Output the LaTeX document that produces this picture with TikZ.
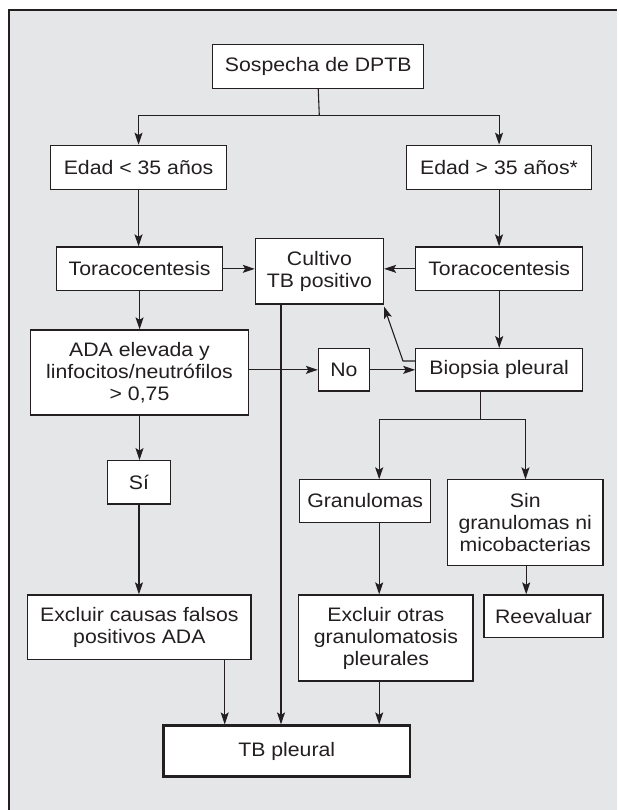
\documentclass[tikz,border=0pt]{standalone}
\usepackage{fontspec}
\setmainfont{Liberation Sans}[FakeStretch=1.09]
\usetikzlibrary{arrows.meta}
\definecolor{bggrey}{HTML}{E5E6E8}
\definecolor{ink}{HTML}{231F20}
\tikzset{
  box/.style={draw=ink, line width=1.3pt, fill=white, inner sep=0pt, align=center,
    font=\fontsize{19.5}{22}\selectfont, text=ink},
  conn/.style={draw=ink, line width=1.1pt},
  arr/.style={conn, -{Stealth[length=12pt,width=8pt,inset=2.5pt]}},
}
\newcommand{\boxat}[7]{% name, x1,y1,x2,y2, text, extra
  \node[box, #7, minimum width={#4-#2}, minimum height={#5-#3}] (#1) at ({(#2+#4)/2},{(#3+#5)/2}) {#6};}
\begin{document}
\begin{tikzpicture}[x=1pt,y=-1pt]
\useasboundingbox (0,0) rectangle (618,810);
\fill[white] (0,0) rectangle (618,810);
\fill[bggrey] (9,10) rectangle (617,810);
\draw[ink, line width=1.4pt] (9,810) -- (9,10) -- (617,10);

\boxat{sos}{212.8}{44.3}{423.7}{88.3}{Sospecha de DPTB}{}
\boxat{e1}{50.5}{145.3}{226.6}{189.3}{Edad < 35 años}{}
\boxat{e2}{406.8}{145.3}{591.3}{189.3}{Edad > 35 años*}{}
\boxat{t1}{56.4}{247}{222.7}{290.7}{Toracocentesis}{}
\boxat{cul}{255.4}{238.7}{383.5}{304}{Cultivo\\TB positivo}{}
\boxat{t2}{415.8}{247}{582.6}{290.7}{Toracocentesis}{}
\boxat{ada}{30.7}{330}{248.3}{415}{ADA elevada y\\linfocitos/neutrófilos\\> 0,75}{}
\boxat{no}{318.5}{348.7}{369.3}{391}{No}{}
\boxat{bio}{415.8}{348.7}{582.6}{391}{Biopsia pleural}{}
\boxat{si}{107.2}{460.7}{170.7}{504}{Sí}{}
\boxat{gra}{299.6}{479.3}{430.8}{522.7}{Granulomas}{}
\boxat{sin}{447.4}{479.3}{603.1}{565.7}{Sin\\granulomas ni\\micobacterias}{}
\boxat{ex1}{27.6}{595}{251.1}{659.3}{Excluir causas falsos\\positivos ADA}{}
\boxat{ex2}{298.8}{595}{473}{681}{Excluir otras\\granulomatosis\\pleurales}{}
\boxat{ree}{484}{595}{603.1}{637.7}{Reevaluar}{}
\boxat{tb}{163.6}{725.7}{409.9}{776.7}{TB pleural}{line width=2.6pt}

% top split
\coordinate (j1) at (319.3,115.7);
\draw[conn] (sos.south) -- (j1);
\draw[arr] (j1) -| (e1.north);
\draw[arr] (j1) -| (e2.north);
% age -> toracocentesis
\draw[arr] (e1.south) -- (e1.south |- t1.north);
\draw[arr] (e2.south) -- (e2.south |- t2.north);
% toracocentesis -> cultivo
\draw[arr] (t1.east) -- (t1.east -| cul.west);
\draw[arr] (t2.west) -- (t2.west -| cul.east);
% left column
\draw[arr] (t1.south) -- (t1.south |- ada.north);
\draw[arr] (ada.south) -- (ada.south |- si.north);
\draw[arr] (si.south) -- (si.south |- ex1.north);
% ADA -> No -> Biopsia
\draw[arr] (no.west -| ada.east) -- (no.west);
\draw[arr] (no.east) -- (no.east -| bio.west);
% right column
\draw[arr] (t2.south) -- (t2.south |- bio.north);
% biopsia -> cultivo
\coordinate (b1) at (415.8,361);
\coordinate (b2) at (403,361);
\coordinate (b3) at (384,306.5);
\draw[arr] (b1) -- (b2) -- (b3);
% biopsia split
\coordinate (b4) at (480.9,391);
\coordinate (j2) at (480.9,419.3);
\coordinate (g1) at (379.2,479.3);
\coordinate (s1) at (525.5,479.3);
\draw[conn] (b4) -- (j2);
\draw[arr] (j2) -| (g1);
\draw[arr] (j2) -| (s1);
% granulomas -> excluir
\coordinate (g2) at (379.2,522.7);
\draw[arr] (g2) -- (g2 |- ex2.north);
\coordinate (s2) at (526.2,565.7);
\draw[arr] (s2) -- (s2 |- ree.north);
% to TB pleural
\coordinate (x1) at (224.7,659.3);
\coordinate (c1) at (281,304);
\coordinate (x2) at (379.2,681);
\draw[arr] (x1) -- (x1 |- tb.north);
\draw[arr] (c1) -- (c1 |- tb.north);
\draw[arr] (x2) -- (x2 |- tb.north);
\end{tikzpicture}
\end{document}
